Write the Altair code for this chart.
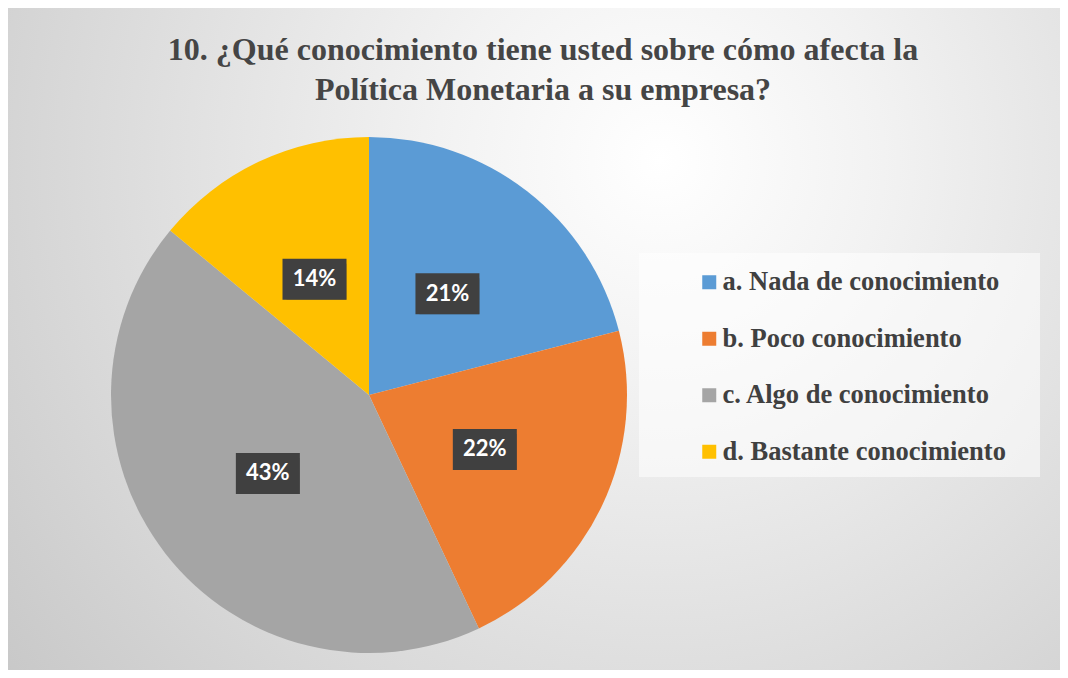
import altair as alt
import pandas as pd

categories = ["a. Nada de conocimiento", "b. Poco conocimiento",
              "c. Algo de conocimiento", "d. Bastante conocimiento"]
values = [21, 22, 43, 14]
labels = ["21%", "22%", "43%", "14%"]
colors = ["#5B9BD5", "#ED7D31", "#A5A5A5", "#FFC000"]
title_lines = ["10. ¿Qué conocimiento tiene usted sobre cómo afecta la",
               "Política Monetaria a su empresa?"]

W, H = 1052, 662
CX, CY, R = 361, 387, 258
LR = 128
BW, BH = 64, 41

df = pd.DataFrame({"cat": categories, "value": values, "label": labels,
                   "order": list(range(len(categories)))})
one = alt.Data(values=[{}])

bg_grad = alt.RadialGradient(
    gradient="radial",
    stops=[alt.GradientStop(color="#ffffff", offset=0),
           alt.GradientStop(color="#f2f2f2", offset=0.25),
           alt.GradientStop(color="#c4c4c4", offset=1)],
    x1=0.62, y1=0.33, r1=0, x2=0.62, y2=0.33, r2=0.85,
)

background = alt.Chart(one).mark_rect(fill=bg_grad).encode(
    x=alt.value(0), x2=alt.value(W), y=alt.value(0), y2=alt.value(H)
)

legend_box = alt.Chart(one).mark_rect(fill="#ffffff", opacity=0.55).encode(
    x=alt.value(631), x2=alt.value(1032), y=alt.value(245), y2=alt.value(469)
)

title_df = pd.DataFrame({"line": title_lines, "i": list(range(len(title_lines)))})
title = alt.Chart(title_df).transform_calculate(
    ty="42 + 40*datum.i"
).mark_text(font="Liberation Serif", fontSize=32, fontWeight="bold", color="#454545",
            align="center", baseline="middle").encode(
    x=alt.value(535),
    y=alt.Y("ty:Q", scale=None, axis=None),
    text="line:N",
)

base = alt.Chart(df)

pie = base.mark_arc(outerRadius=R).encode(
    theta=alt.Theta("value:Q", stack=True),
    color=alt.Color("cat:N", scale=alt.Scale(domain=categories, range=colors),
                    legend=alt.Legend(title=None, orient="none", legendX=688, legendY=261,
                                      symbolType="square", symbolSize=196,
                                      symbolStrokeWidth=0, labelFont="Liberation Serif",
                                      labelFontWeight="bold", labelFontSize=26.5,
                                      labelColor="#404040", rowPadding=29.5,
                                      labelOffset=0, labelLimit=0, padding=0)),
    order=alt.Order("order:Q"),
    x=alt.value(CX), y=alt.value(CY),
)

lab = base.transform_joinaggregate(total="sum(value)").transform_window(
    cum="sum(value)", sort=[alt.SortField("order")], frame=[None, 0]
).transform_calculate(
    ang="2*PI*(datum.cum - datum.value/2)/datum.total"
).transform_calculate(
    lx=f"{CX} + {LR}*sin(datum.ang)",
    ly=f"{CY} - {LR}*cos(datum.ang)",
).transform_calculate(
    bx1=f"datum.lx - {BW/2}", bx2=f"datum.lx + {BW/2}",
    by1=f"datum.ly - {BH/2}", by2=f"datum.ly + {BH/2}",
)

shadow = lab.mark_rect(color="#000000", opacity=0.28, xOffset=4, yOffset=5).encode(
    x=alt.X("bx1:Q", scale=None, axis=None), x2="bx2:Q",
    y=alt.Y("by1:Q", scale=None, axis=None), y2="by2:Q",
)
box = lab.mark_rect(color="#404040").encode(
    x=alt.X("bx1:Q", scale=None, axis=None), x2="bx2:Q",
    y=alt.Y("by1:Q", scale=None, axis=None), y2="by2:Q",
)
text = lab.mark_text(font="Lato", fontWeight="bold", fontSize=22, color="#ffffff",
                     baseline="middle", align="center").encode(
    x=alt.X("lx:Q", scale=None, axis=None),
    y=alt.Y("ly:Q", scale=None, axis=None),
    text="label:N",
)

chart = alt.layer(background, legend_box, title, pie, shadow, box, text).properties(
    width=W, height=H, padding=0, autosize="none",
).configure_view(stroke="#bfbfbf", strokeWidth=1).configure(background="#ffffff")

chart.save("out.html", embed_options={"renderer": "svg", "actions": False})
